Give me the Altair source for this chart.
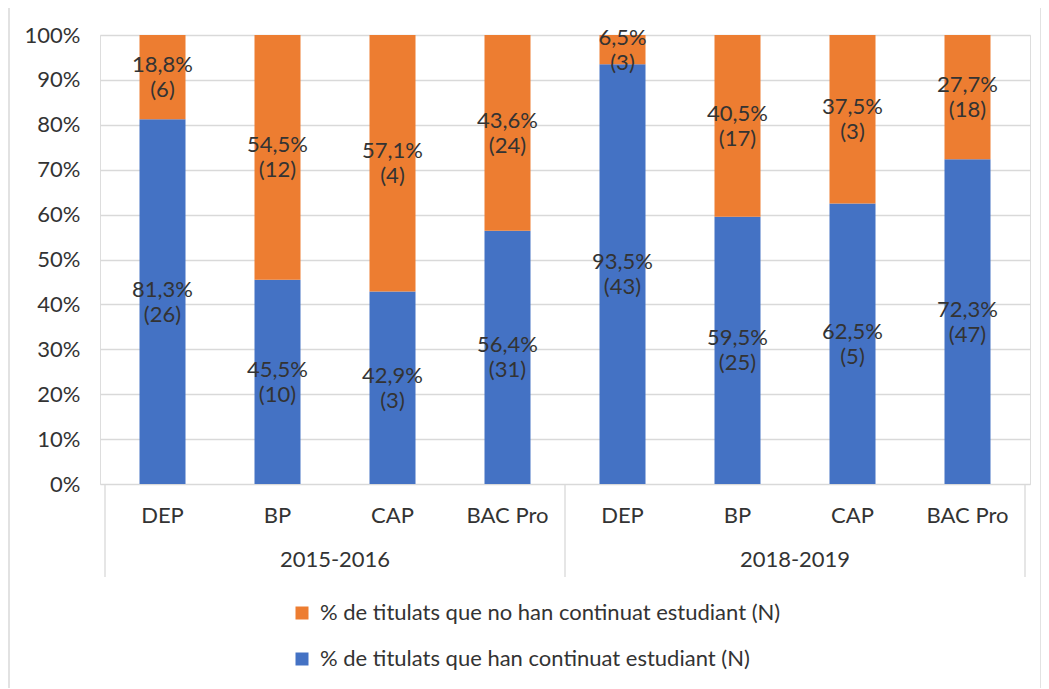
import altair as alt
import pandas as pd

categories = ["DEP", "BP", "CAP", "BAC Pro", "DEP", "BP", "CAP", "BAC Pro"]
groups = ["2015-2016"] * 4 + ["2018-2019"] * 4
pct_cont = [81.3, 45.5, 42.9, 56.4, 93.5, 59.5, 62.5, 72.3]
n_cont = [26, 10, 3, 31, 43, 25, 5, 47]
pct_no = [18.8, 54.5, 57.1, 43.6, 6.5, 40.5, 37.5, 27.7]
n_no = [6, 12, 4, 24, 3, 17, 3, 18]
series = ["% de titulats que no han continuat estudiant (N)",
          "% de titulats que han continuat estudiant (N)"]
colors = ["#ED7D31", "#4472C4"]
group_names = ["2015-2016", "2018-2019"]

FONT = "Lato"
FS = 22
TXT = "#333333"
W, H = 930, 449

rows = []
for i, (c, g) in enumerate(zip(categories, groups)):
    for s, p, n, o in ((series[1], pct_cont[i], n_cont[i], 0), (series[0], pct_no[i], n_no[i], 1)):
        rows.append({"idx": i, "cat": c, "grp": g, "serie": s, "pct": p, "n": n, "ord": o,
                     "label": f"{p:.1f}".replace(".", ",") + "%\n(" + str(n) + ")"})
df = pd.DataFrame(rows)

xscale = alt.Scale(domain=[-0.5, 7.5], nice=False, zero=False)
yscale = alt.Scale(domain=[0, 1], nice=False)

base = alt.Chart(df).transform_stack(
    stack="pct", groupby=["idx"], sort=[alt.SortField("ord", order="ascending")],
    as_=["y0", "y1"], offset="normalize"
).transform_calculate(mid="(datum.y0 + datum.y1) / 2")

bars = base.mark_bar(size=46).encode(
    x=alt.X("idx:Q", scale=xscale, axis=None),
    y=alt.Y("y0:Q", scale=yscale,
            axis=alt.Axis(values=[i / 10 for i in range(11)], format=".0%", title=None,
                          domain=False, ticks=False, grid=True, gridColor="#d9d9d9",
                          gridWidth=1.3, labelFontSize=FS, labelFont=FONT, labelColor=TXT,
                          labelPadding=20)),
    y2="y1:Q",
    color=alt.Color("serie:N", scale=alt.Scale(domain=series, range=colors),
                    legend=alt.Legend(title=None, orient="none", legendX=191, legendY=567,
                                      direction="vertical", symbolType="square",
                                      symbolSize=169, symbolStrokeWidth=0,
                                      labelFontSize=FS, labelFont=FONT, labelColor=TXT,
                                      rowPadding=24, labelOffset=7, labelLimit=700)),
)

labels = base.mark_text(fontSize=FS, font=FONT, color=TXT, lineBreak="\n",
                        lineHeight=25, baseline="middle", align="center", dy=-12).encode(
    x=alt.X("idx:Q", scale=xscale),
    y=alt.Y("mid:Q", scale=yscale),
    text="label:N",
)

cat_df = pd.DataFrame({"idx": list(range(8)), "cat": categories})
cat_text = alt.Chart(cat_df).mark_text(fontSize=FS, font=FONT, color=TXT, baseline="middle").encode(
    x=alt.X("idx:Q", scale=xscale),
    y=alt.value(H + 32),
    text="cat:N",
)

grp_df = pd.DataFrame({"pos": [1.5, 5.5], "grp": group_names})
grp_text = alt.Chart(grp_df).mark_text(fontSize=FS, font=FONT, color=TXT, baseline="middle").encode(
    x=alt.X("pos:Q", scale=xscale),
    y=alt.value(H + 76),
    text="grp:N",
)

sep_df = pd.DataFrame({"pos": [-0.5, 3.5, 7.5]})
seps = alt.Chart(sep_df).mark_rule(color="#d9d9d9", strokeWidth=1.3).encode(
    x=alt.X("pos:Q", scale=xscale),
    y=alt.value(H),
    y2=alt.value(H + 93),
)

border = alt.Chart(pd.DataFrame({"a": [0]})).mark_rect(
    fill="transparent", stroke="#d9d9d9", strokeWidth=1.5).encode(
    x=alt.value(-91), x2=alt.value(W + 11), y=alt.value(-29), y2=alt.value(H + 230)
)

chart = alt.layer(border, bars, labels, cat_text, grp_text, seps).properties(
    width=W, height=H,
    autosize=alt.AutoSizeParams(type="none"),
    padding={"left": 92, "top": 27, "right": 11, "bottom": 204},
).configure_view(stroke=None).configure(background="white")

chart.save("out.html", embed_options={"renderer": "svg", "actions": False})
